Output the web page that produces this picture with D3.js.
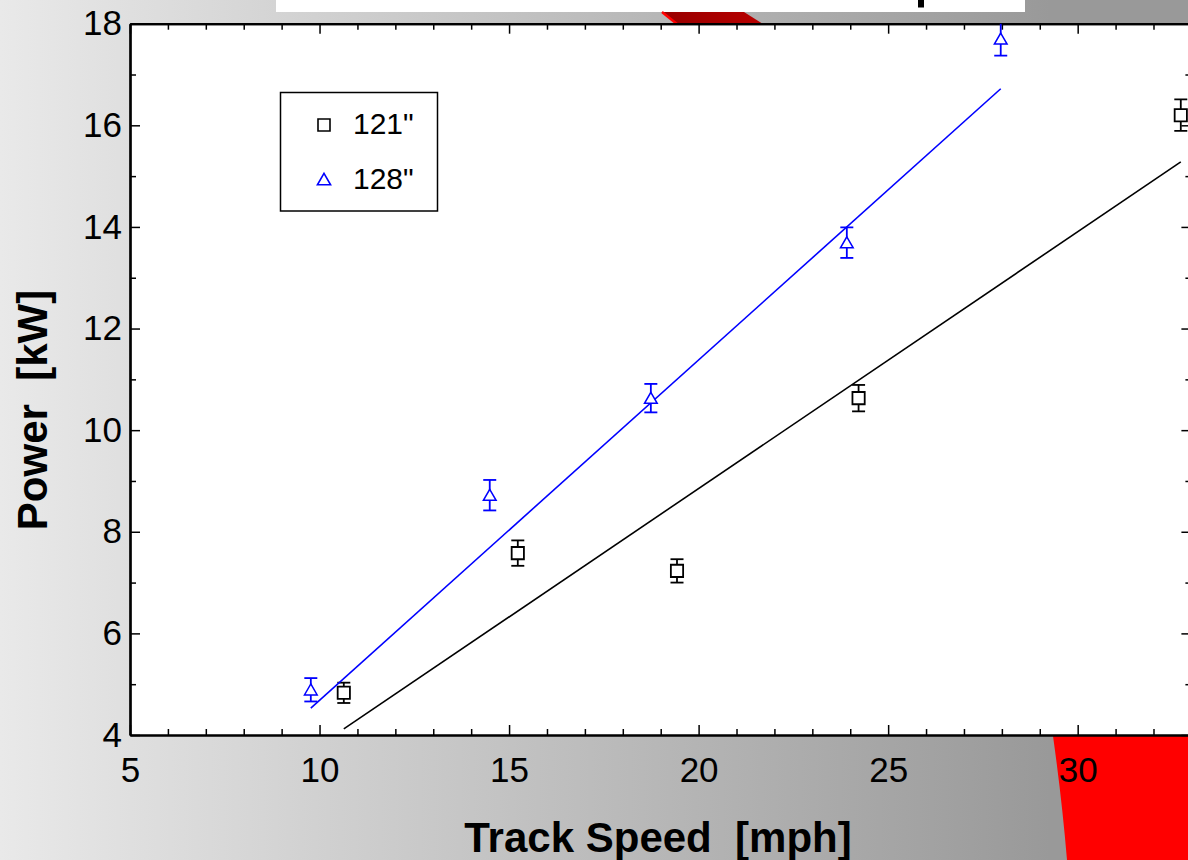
<!DOCTYPE html>
<html>
<head>
<meta charset="utf-8">
<script src="https://cdn.jsdelivr.net/npm/d3@7"></script>
<style>
  html, body { margin: 0; padding: 0; background: #fff; }
  svg { display: block; font-family: "Liberation Sans", Arial, sans-serif; }
</style>
</head>
<body>
<div id="chart"></div>
<script>
// ---- data ----
const seriesNames = ['121"', '128"']

const speed121 = [10.64, 15.23, 19.43, 24.22, 32.72]
const power121 = [4.83, 7.58, 7.23, 10.63, 16.2]
const err121   = [0.2, 0.25, 0.23, 0.26, 0.31]

const speed128 = [9.77, 14.49, 18.74, 23.91, 27.97]
const power128 = [4.89, 8.72, 10.63, 13.69, 17.7]
const err128   = [0.23, 0.3, 0.28, 0.3, 0.33]

// linear fit lines, end points as read
const fit121 = [[10.64, 4.12], [32.72, 15.28]]
const fit128 = [[9.77, 4.53], [27.97, 16.72]]

const xMajor = [5, 10, 15, 20, 25, 30]
const yMajor = [4, 6, 8, 10, 12, 14, 16, 18]

const width = 1188, height = 860
const plot = { left: 130, right: 1191.4, top: 23.7, bottom: 735 }

const svg = d3.select("#chart").append("svg")
    .attr("width", width)
    .attr("height", height)

// background gradient of the slide
const defs = svg.append("defs")
const grad = defs.append("linearGradient")
    .attr("id", "bg")
    .attr("gradientUnits", "userSpaceOnUse")
    .attr("x1", 0).attr("y1", 0).attr("x2", 1050).attr("y2", 0)
grad.append("stop").attr("offset", 0).attr("stop-color", "#e9e9e9")
grad.append("stop").attr("offset", 1).attr("stop-color", "#999999")

const redGrad = defs.append("linearGradient")
    .attr("id", "redband")
redGrad.append("stop").attr("offset", 0).attr("stop-color", "#980000")
redGrad.append("stop").attr("offset", 1).attr("stop-color", "#b80000")

defs.append("clipPath").attr("id", "plotclip")
    .append("rect")
    .attr("x", plot.left).attr("y", plot.top)
    .attr("width", plot.right - plot.left).attr("height", plot.bottom - plot.top)

svg.append("rect").attr("width", width).attr("height", height).attr("fill", "url(#bg)")

// bits of the slide around the chart
svg.append("rect").attr("x", 276).attr("y", 0).attr("width", 749).attr("height", 12).attr("fill", "#fff")
svg.append("rect").attr("x", 918).attr("y", 0).attr("width", 6).attr("height", 7.5).attr("fill", "#000")
svg.append("path")
    .attr("d", "M662,12 L744,12 L763,24 L677,24 Z")
    .attr("fill", "url(#redband)")
svg.append("path")
    .attr("d", "M662,12 L677,24")
    .attr("stroke", "#ff0000").attr("stroke-width", 2.5)
svg.append("path")
    .attr("d", "M1053,736 Q1062,800 1067,860 L1188,860 L1188,736 Z")
    .attr("fill", "#ff0000")

// plot area
svg.append("rect")
    .attr("x", plot.left).attr("y", plot.top)
    .attr("width", plot.right - plot.left).attr("height", plot.bottom - plot.top)
    .attr("fill", "#fff")

const x = d3.scaleLinear().domain([5, 33]).range([plot.left, plot.right])
const y = d3.scaleLinear().domain([4, 18]).range([plot.bottom, plot.top])

const xMinor = d3.range(5, 34).filter(v => !xMajor.includes(v))
const yMinor = d3.range(5, 18, 2)

function styleAxis(g) {
    g.select(".domain").attr("stroke-width", 2.2)
    g.selectAll(".tick line").attr("stroke-width", 1.5)
    g.selectAll("text").attr("fill", "#000")
}

// minor ticks
svg.append("g").attr("transform", `translate(0,${plot.bottom})`)
    .call(d3.axisBottom(x).tickValues(xMinor).tickSize(-6).tickSizeOuter(0).tickFormat(""))
    .call(styleAxis)
svg.append("g").attr("transform", `translate(0,${plot.top})`)
    .call(d3.axisTop(x).tickValues(xMinor).tickSize(-6).tickSizeOuter(0).tickFormat(""))
    .call(styleAxis)
svg.append("g").attr("transform", `translate(${plot.left},0)`)
    .call(d3.axisLeft(y).tickValues(yMinor).tickSize(-6).tickSizeOuter(0).tickFormat(""))
    .call(styleAxis)
svg.append("g").attr("transform", `translate(${plot.right},0)`)
    .call(d3.axisRight(y).tickValues(yMinor).tickSize(-6).tickSizeOuter(0).tickFormat(""))
    .call(styleAxis)

// major ticks with labels
svg.append("g").attr("transform", `translate(0,${plot.bottom})`)
    .call(d3.axisBottom(x).tickValues(xMajor).tickSize(-10).tickSizeOuter(0).tickPadding(22).tickFormat(d3.format("d")))
    .call(styleAxis)
    .call(g => g.selectAll("text").attr("font-size", 35).attr("font-family", "Liberation Sans, Arial"))
svg.append("g").attr("transform", `translate(0,${plot.top})`)
    .call(d3.axisTop(x).tickValues(xMajor).tickSize(-10).tickSizeOuter(0).tickFormat(""))
    .call(styleAxis)
svg.append("g").attr("transform", `translate(${plot.left},0)`)
    .call(d3.axisLeft(y).tickValues(yMajor).tickSize(-10).tickSizeOuter(0).tickPadding(8).tickFormat(d3.format("d")))
    .call(styleAxis)
    .call(g => g.selectAll("text").attr("font-size", 35).attr("font-family", "Liberation Sans, Arial"))
svg.append("g").attr("transform", `translate(${plot.right},0)`)
    .call(d3.axisRight(y).tickValues(yMajor).tickSize(-10).tickSizeOuter(0).tickFormat(""))
    .call(styleAxis)

// axis titles
svg.append("text")
    .attr("x", 658).attr("y", 852)
    .attr("text-anchor", "middle")
    .attr("font-size", 42).attr("font-weight", "bold")
    .style("white-space", "pre")
    .text("Track Speed  [mph]")
svg.append("text")
    .attr("transform", "translate(47,410) rotate(-90)")
    .attr("text-anchor", "middle")
    .attr("font-size", 42).attr("font-weight", "bold")
    .style("white-space", "pre")
    .text("Power  [kW]")

// series
const series = [
    { name: seriesNames[0], xs: speed121, ys: power121, es: err121, fit: fit121, colour: "#000", sym: d3.symbolSquare, size: 150, sw: 1.8 },
    { name: seriesNames[1], xs: speed128, ys: power128, es: err128, fit: fit128, colour: "#0000ff", sym: d3.symbolTriangle, size: 70, sw: 1.5 }
]

const inner = svg.append("g").attr("clip-path", "url(#plotclip)")
const capW = 6.5

series.forEach(s => {
    inner.append("path")
        .datum(s.fit)
        .attr("d", d3.line().x(d => x(d[0])).y(d => y(d[1])))
        .attr("fill", "none")
        .attr("stroke", s.colour)
        .attr("stroke-width", 1.6)

    const pts = s.xs.map((v, i) => ({ x: v, y: s.ys[i], e: s.es[i] }))
    const eb = inner.append("g").attr("stroke", s.colour).attr("stroke-width", 1.8)
    eb.selectAll("line.v").data(pts).join("line")
        .attr("class", "v")
        .attr("x1", d => x(d.x)).attr("x2", d => x(d.x))
        .attr("y1", d => y(d.y + d.e)).attr("y2", d => y(d.y - d.e))
    eb.selectAll("line.top").data(pts).join("line")
        .attr("class", "top")
        .attr("x1", d => x(d.x) - capW).attr("x2", d => x(d.x) + capW)
        .attr("y1", d => y(d.y + d.e)).attr("y2", d => y(d.y + d.e))
    eb.selectAll("line.bot").data(pts).join("line")
        .attr("class", "bot")
        .attr("x1", d => x(d.x) - capW).attr("x2", d => x(d.x) + capW)
        .attr("y1", d => y(d.y - d.e)).attr("y2", d => y(d.y - d.e))

    inner.append("g").selectAll("path").data(pts).join("path")
        .attr("transform", d => `translate(${x(d.x)},${y(d.y) + (s.sym === d3.symbolTriangle ? 1.5 : 0)})`)
        .attr("d", d3.symbol().type(s.sym).size(s.size))
        .attr("fill", "#fff")
        .attr("stroke", s.colour)
        .attr("stroke-width", s.sw)
})

// legend
const legend = svg.append("g")
legend.append("rect")
    .attr("x", 280.5).attr("y", 92.5).attr("width", 157).attr("height", 118.5)
    .attr("fill", "#fff").attr("stroke", "#000").attr("stroke-width", 1.5)
series.forEach((s, i) => {
    const cy = 125 + i * 55
    legend.append("path")
        .attr("transform", `translate(324,${cy + (i === 1 ? 1 : 0)})`)
        .attr("d", d3.symbol().type(s.sym).size(s.sym === d3.symbolSquare ? 144 : 75))
        .attr("fill", "#fff").attr("stroke", s.colour).attr("stroke-width", 1.6)
    legend.append("text")
        .attr("x", 353).attr("y", cy + 9)
        .attr("font-size", 30)
        .text(s.name)
})
</script>
</body>
</html>
